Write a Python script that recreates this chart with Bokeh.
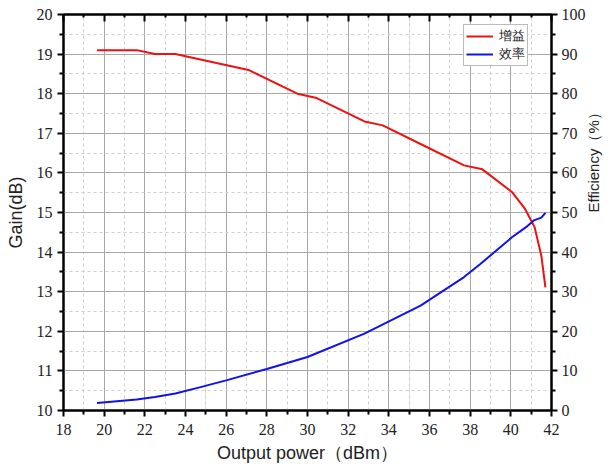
import math
from bokeh.plotting import figure
from bokeh.models import (Range1d, LinearAxis, FixedTicker, Legend, LegendItem, Grid,
                          CustomLabelingPolicy)
from bokeh.embed import file_html
from bokeh.resources import INLINE

# Data
power = [19.65, 21.6, 22.5, 23.5, 27.1, 29.5, 30.4, 32.8, 33.7, 35.56, 37.7, 38.6, 40.07, 40.7, 41.17, 41.5, 41.7]
gain = [19.1, 19.1, 19.0, 19.0, 18.6, 18.0, 17.9, 17.3, 17.2, 16.73, 16.19, 16.09, 15.51, 15.09, 14.63, 13.91, 13.11]

eff_power = [19.65, 21.6, 22.5, 23.5, 24.74, 26.0, 28.0, 30.0, 32.8, 35.56, 37.7, 38.5, 40.07, 40.8, 41.13, 41.5, 41.7]
efficiency = [1.9, 2.8, 3.4, 4.3, 5.9, 7.6, 10.5, 13.5, 19.4, 26.5, 33.7, 37.0, 43.8, 46.5, 48.0, 48.7, 49.9]

x_ticks = list(range(18, 43, 2))
x_minor = list(range(19, 42, 2))
gain_ticks = list(range(10, 21))
gain_minor = [v + 0.5 for v in range(10, 20)]
eff_ticks = list(range(0, 101, 10))
eff_minor = list(range(5, 100, 10))

legend_labels = ["增益", "效率"]

TICK_FONT = "Liberation Serif"
LABEL_FONT = "Liberation Sans"

p = figure(width=614, height=470, output_backend="svg", toolbar_location=None,
           x_range=Range1d(18, 42), y_range=Range1d(10, 20),
           x_axis_location=None, y_axis_location=None,
           min_border_left=63, min_border_right=63, min_border_top=14, min_border_bottom=60)
p.extra_y_ranges = {"eff": Range1d(0, 100)}
p.outline_line_color = "black"
p.outline_line_width = 2
p.background_fill_color = "white"
p.border_fill_color = "white"


def style_axis(ax, tin, tout, mtin, mtout, label_size="18px"):
    ax.axis_line_color = "black"
    ax.axis_line_width = 2
    ax.major_tick_line_color = "black"
    ax.major_tick_line_width = 2
    ax.minor_tick_line_color = "black"
    ax.minor_tick_line_width = 2
    ax.major_tick_in = tin
    ax.major_tick_out = tout
    ax.minor_tick_in = mtin
    ax.minor_tick_out = mtout
    ax.major_label_text_font = TICK_FONT
    ax.major_label_text_font_size = "16px"
    ax.major_label_text_color = "#222222"
    ax.axis_label_text_font = LABEL_FONT
    ax.axis_label_text_font_size = label_size
    ax.axis_label_text_font_style = "normal"
    ax.axis_label_text_color = "#222222"


xb = LinearAxis(ticker=FixedTicker(ticks=x_ticks, minor_ticks=x_minor),
                axis_label="Output power（dBm）")
style_axis(xb, 0, 6, 0, 4)
xb.major_label_standoff = 7
xb.axis_label_standoff = 5
p.add_layout(xb, "below")

xt = LinearAxis(ticker=FixedTicker(ticks=x_ticks, minor_ticks=x_minor),
                major_label_policy=CustomLabelingPolicy(code="""
                    for (const i of Array.from(indices)) { indices.unset(i) }
                    return indices
                """))
style_axis(xt, 7, 0, 3, 0)
xt.major_label_standoff = 0
p.add_layout(xt, "above")

yl = LinearAxis(ticker=FixedTicker(ticks=gain_ticks, minor_ticks=gain_minor),
                axis_label="Gain(dB)")
style_axis(yl, 0, 6, 0, 4)
yl.major_label_standoff = 5
yl.axis_label_standoff = 8
p.add_layout(yl, "left")

yr = LinearAxis(y_range_name="eff", ticker=FixedTicker(ticks=eff_ticks, minor_ticks=eff_minor),
                axis_label="Efficiency（%）")
style_axis(yr, 0, 6, 0, 4, label_size="15px")
yr.major_label_standoff = 4
yr.axis_label_standoff = 5
yr.axis_label_orientation = math.pi / 2
p.add_layout(yr, "right")

# grids
gx = Grid(dimension=0, ticker=FixedTicker(ticks=x_ticks, minor_ticks=x_minor),
          grid_line_color="#a8a8a8", grid_line_width=1,
          minor_grid_line_color="#cfcfcf", minor_grid_line_dash="3 3", minor_grid_line_width=1)
gy = Grid(dimension=1, ticker=FixedTicker(ticks=gain_ticks, minor_ticks=gain_minor),
          grid_line_color="#a8a8a8", grid_line_width=1,
          minor_grid_line_color="#cfcfcf", minor_grid_line_dash="3 3", minor_grid_line_width=1)
p.add_layout(gx)
p.add_layout(gy)

r1 = p.line(power, gain, line_color="#ee1111", line_width=2)
r2 = p.line(eff_power, efficiency, line_color="#1111ee", line_width=2, y_range_name="eff")

legend = Legend(items=[LegendItem(label=legend_labels[0], renderers=[r1]),
                       LegendItem(label=legend_labels[1], renderers=[r2])],
                location=(400, 344))
legend.label_text_font = "Liberation Serif"
legend.label_text_font_size = "13px"
legend.label_text_line_height = 0.9
legend.label_text_color = "#222222"
legend.label_height = 12
legend.glyph_height = 12
legend.glyph_width = 27
legend.label_standoff = 6
legend.spacing = 0
legend.padding = 2
legend.margin = 0
legend.border_line_color = "#777777"
legend.border_line_width = 1
legend.background_fill_alpha = 1.0
p.add_layout(legend, "center")

open("out.html", "w").write(file_html(p, INLINE))
